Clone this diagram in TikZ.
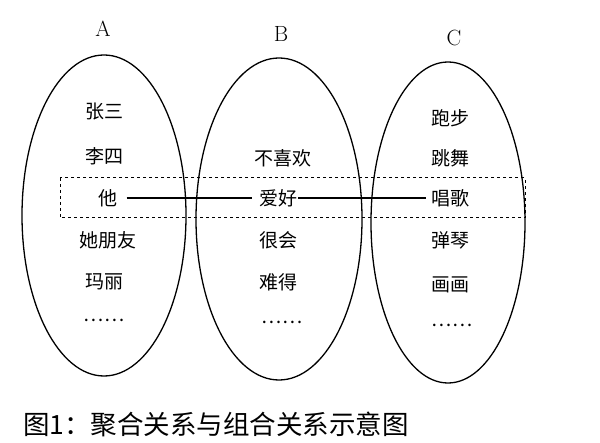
\documentclass[tikz,border=0pt]{standalone}
\usepackage{fontspec}
\newfontfamily\cjk{Noto Sans CJK SC}
\begin{document}
\begin{tikzpicture}[x=1pt,y=-1pt,
  t/.style={font=\cjk\fontsize{19}{20}\selectfont,inner sep=1pt},
  lab/.style={font=\fontsize{22}{22}\selectfont},
  ell/.style={draw,line width=1.3pt}]
\useasboundingbox (0,0) rectangle (600,443);
\fill[white] (0,0) rectangle (600,443);
\draw[ell] (104,215.5) ellipse [x radius=82,y radius=160.5];
\draw[ell] (279,219) ellipse [x radius=83,y radius=161];
\draw[ell] (448,222.5) ellipse [x radius=77,y radius=160.5];
\draw[dashed,line width=1pt] (60,178) rectangle (525,218);
\node[lab] (la) at (103,29) {A};
\node[lab] (lb) at (281,34) {B};
\node[lab] (lc) at (454,38) {C};
\node[t] (a1) at (104,112) {张三};
\node[t] (a2) at (104,156) {李四};
\node[t] (a3) at (108,198) {他};
\node[t] (a4) at (108,240) {她朋友};
\node[t] (a5) at (104,282) {玛丽};
\node[t] (a6) at (104,320) {……};
\node[t] (b1) at (283,158) {不喜欢};
\node[t] (b2) at (278,198) {爱好};
\node[t] (b3) at (278,240) {很会};
\node[t] (b4) at (278,282) {难得};
\node[t] (b5) at (282,322) {……};
\node[t] (c1) at (450,118) {跑步};
\node[t] (c2) at (450,158) {跳舞};
\node[t] (c3) at (450,198) {唱歌};
\node[t] (c4) at (450,240) {弹琴};
\node[t] (c5) at (450,285) {画画};
\node[t] (c6) at (452,325) {……};
\draw[line width=1.2pt] (a3.east)++(8,0) -- ([xshift=-6pt]b2.west);
\draw[line width=1.2pt] (b2.east) -- ([xshift=-4pt]c3.west);
\node[t,anchor=west,font=\cjk\fontsize{26.5}{28}\selectfont] (cap) at (22,424) {图1：聚合关系与组合关系示意图};
\end{tikzpicture}
\end{document}
